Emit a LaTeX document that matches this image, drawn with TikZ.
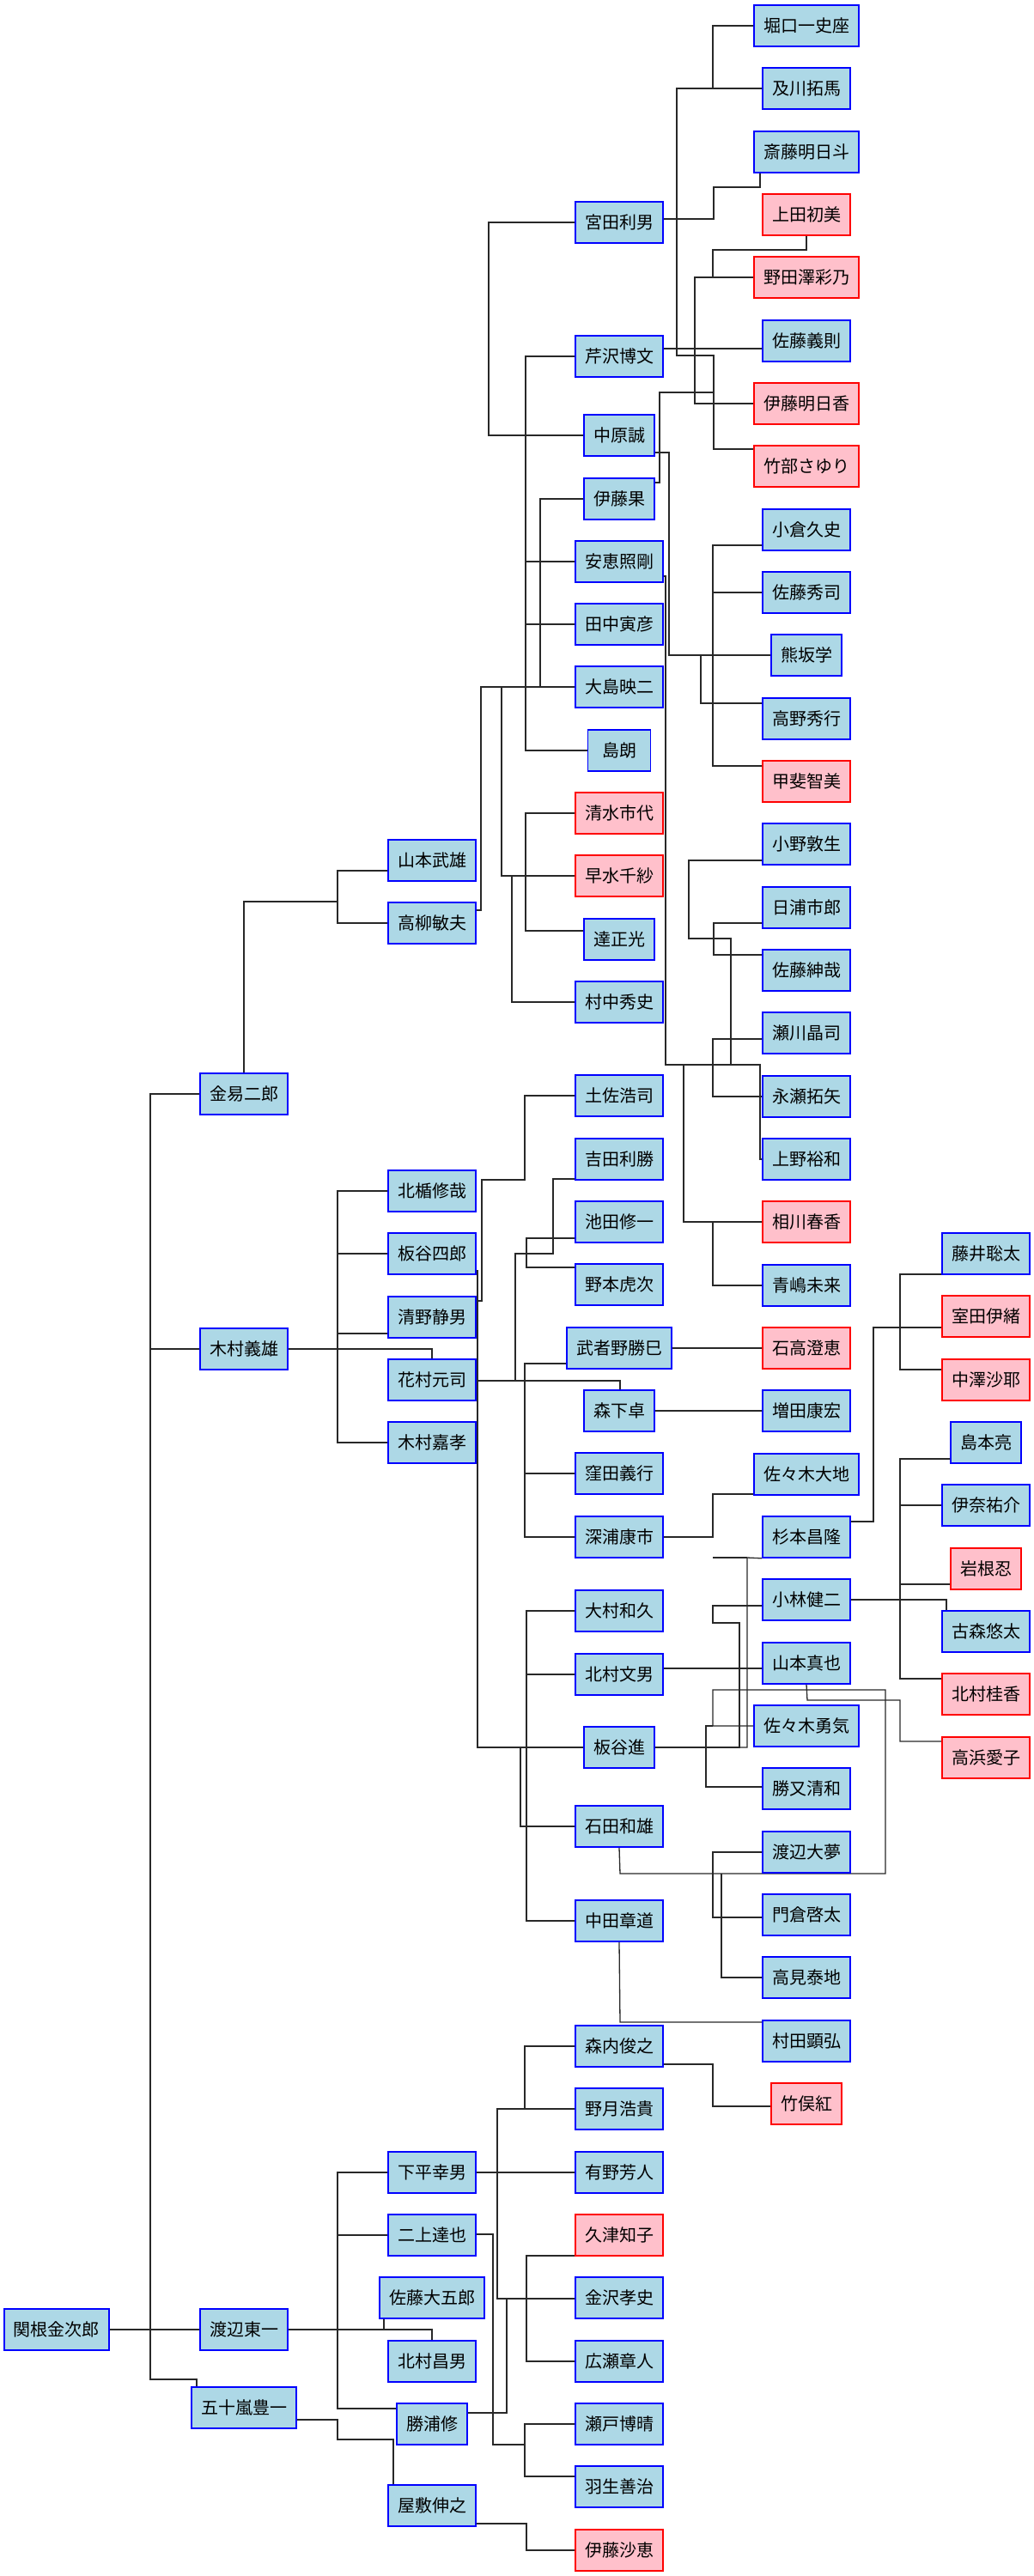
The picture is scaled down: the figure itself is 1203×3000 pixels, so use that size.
\documentclass[tikz,border=0pt]{standalone}
\usepackage{fontspec}
\newfontfamily\jp{Noto Sans CJK JP}
\usetikzlibrary{backgrounds}
\definecolor{boxfill}{RGB}{173,216,230}
\definecolor{boxline}{RGB}{0,0,255}
\definecolor{femfill}{RGB}{255,192,203}
\definecolor{femline}{RGB}{255,0,0}
\definecolor{wirecol}{RGB}{40,40,40}
\begin{document}
\begin{tikzpicture}[x=1bp,y=-1bp,
  person/.style={draw=boxline, fill=boxfill, line width=1.6bp, minimum height=48bp,
    minimum width=73bp, inner xsep=11bp, inner ysep=0pt,
    font=\jp\fontsize{20bp}{24bp}\selectfont},
  woman/.style={person, draw=femline, fill=femfill},
  wire/.style={draw=wirecol, line width=1.3bp}]
\useasboundingbox (0,0) rectangle (1203,3000);

% ---------- generation 1 and 2 ----------
\node[person] (sekine) at (66,2713) {関根金次郎};
\node[person] (kaneeki) at (284,1274) {金易二郎};
\node[person] (kimuraY) at (284,1571) {木村義雄};
\node[person] (watanabeT) at (284,2713) {渡辺東一};
\node[person] (igarashi) at (284,2804) {五十嵐豊一};

% ---------- generation 3 ----------
\node[person] (yamamotoT) at (503,1002) {山本武雄};
\node[person] (takayanagi) at (503,1075) {高柳敏夫};
\node[person] (kitadate) at (503,1387) {北楯修哉};
\node[person] (itayaS) at (503,1460) {板谷四郎};
\node[person] (seino) at (503,1534) {清野静男};
\node[person] (hanamura) at (503,1607) {花村元司};
\node[person] (kimuraK) at (503,1680) {木村嘉孝};
\node[person] (shimodaira) at (503,2530) {下平幸男};
\node[person] (futakami) at (503,2603) {二上達也};
\node[person] (satoD) at (503,2676) {佐藤大五郎};
\node[person] (kitamuraM) at (503,2750) {北村昌男};
\node[person] (katsuura) at (503,2823) {勝浦修};
\node[person] (yashiki) at (503,2918) {屋敷伸之};

% ---------- generation 4 ----------
\node[person] (miyata) at (721,259) {宮田利男};
\node[person] (serizawa) at (721,415) {芹沢博文};
\node[person] (nakahara) at (721,507) {中原誠};
\node[person] (itoH) at (721,581) {伊藤果};
\node[person] (yasue) at (721,654) {安恵照剛};
\node[person] (tanakaT) at (721,727) {田中寅彦};
\node[person] (oshima) at (721,800) {大島映二};
\node[person] (shimaA) at (721,874) {島朗};
\node[woman] (shimizu) at (721,947) {清水市代};
\node[woman] (hayami) at (721,1020) {早水千紗};
\node[person] (tatsu) at (721,1094) {達正光};
\node[person] (muranaka) at (721,1167) {村中秀史};
\node[person] (tosa) at (721,1276) {土佐浩司};
\node[person] (yoshida) at (721,1350) {吉田利勝};
\node[person] (ikeda) at (721,1423) {池田修一};
\node[person] (nomoto) at (721,1496) {野本虎次};
\node[person] (mushano) at (721,1570) {武者野勝巳};
\node[person] (morishita) at (721,1643) {森下卓};
\node[person] (kubota) at (721,1716) {窪田義行};
\node[person] (fukaura) at (721,1790) {深浦康市};
\node[person] (omura) at (721,1876) {大村和久};
\node[person] (kitamuraF) at (721,1950) {北村文男};
\node[person] (itayaSu) at (721,2035) {板谷進};
\node[person] (ishida) at (721,2127) {石田和雄};
\node[person] (nakata) at (721,2237) {中田章道};
\node[person] (moriuchi) at (721,2383) {森内俊之};
\node[person] (nozuki) at (721,2456) {野月浩貴};
\node[person] (arino) at (721,2530) {有野芳人};
\node[woman] (kutsu) at (721,2603) {久津知子};
\node[person] (kanazawa) at (721,2676) {金沢孝史};
\node[person] (hirose) at (721,2750) {広瀬章人};
\node[person] (seto) at (721,2823) {瀬戸博晴};
\node[person] (habu) at (721,2896) {羽生善治};
\node[woman] (itoSae) at (721,2970) {伊藤沙恵};

% ---------- generation 5 ----------
\node[person] (horiguchi) at (939,30) {堀口一史座};
\node[person] (oikawa) at (939,103) {及川拓馬};
\node[person] (saitoA) at (939,177) {斎藤明日斗};
\node[woman] (uedaH) at (939,250) {上田初美};
\node[woman] (nodazawa) at (939,323) {野田澤彩乃};
\node[person] (satoY) at (939,397) {佐藤義則};
\node[woman] (itoAs) at (939,470) {伊藤明日香};
\node[woman] (takebe) at (939,543) {竹部さゆり};
\node[person] (ogura) at (939,617) {小倉久史};
\node[person] (satoSh) at (939,690) {佐藤秀司};
\node[person] (kumasaka) at (939,763) {熊坂学};
\node[person] (takano) at (939,837) {高野秀行};
\node[woman] (kai) at (939,910) {甲斐智美};
\node[person] (ono) at (939,983) {小野敦生};
\node[person] (hiura) at (939,1057) {日浦市郎};
\node[person] (satoSn) at (939,1130) {佐藤紳哉};
\node[person] (segawa) at (939,1203) {瀬川晶司};
\node[person] (nagase) at (939,1277) {永瀬拓矢};
\node[person] (ueno) at (939,1350) {上野裕和};
\node[woman] (aikawa) at (939,1423) {相川春香};
\node[person] (aoshima) at (939,1497) {青嶋未来};
\node[woman] (ishitaka) at (939,1570) {石高澄恵};
\node[person] (masuda) at (939,1643) {増田康宏};
\node[person] (sasakiD) at (939,1717) {佐々木大地};
\node[person] (sugimoto) at (939,1790) {杉本昌隆};
\node[person] (kobayashi) at (939,1863) {小林健二};
\node[person] (yamamotoS) at (939,1937) {山本真也};
\node[person] (sasakiY) at (939,2010) {佐々木勇気};
\node[person] (katsumata) at (939,2083) {勝又清和};
\node[person] (watanabeD) at (939,2157) {渡辺大夢};
\node[person] (kadokura) at (939,2230) {門倉啓太};
\node[person] (takami) at (939,2303) {高見泰地};
\node[person] (murata) at (939,2377) {村田顕弘};
\node[woman] (takemata) at (939,2450) {竹俣紅};

% ---------- generation 6 ----------
\node[person] (fujii) at (1148,1460) {藤井聡太};
\node[woman] (murota) at (1148,1533) {室田伊緒};
\node[woman] (nakazawa) at (1148,1607) {中澤沙耶};
\node[person] (shimamoto) at (1148,1680) {島本亮};
\node[person] (ina) at (1148,1753) {伊奈祐介};
\node[woman] (iwane) at (1148,1827) {岩根忍};
\node[person] (komori) at (1148,1900) {古森悠太};
\node[woman] (kitamuraK) at (1148,1973) {北村桂香};
\node[woman] (takahama) at (1148,2047) {高浜愛子};

\begin{scope}[on background layer]
\fill[white] (0,0) rectangle (1203,3000);

% 関根金次郎
\draw[wire] (sekine.east) -- (watanabeT.west);
\draw[wire] (sekine.east) -- (175,2713) -- (175,1274) -- (kaneeki.west);
\draw[wire] (sekine.east) -- (175,2713) -- (175,1571) -- (kimuraY.west);
\draw[wire] (sekine.east) -- (175,2713) -- (175,2771) -- (229,2771) -- (229,0 |- igarashi.north);

% 金易二郎
\draw[wire] (kaneeki.north) -- (284,1050) -- (393,1050) -- (393,1014) -- (yamamotoT.west |- 0,1014);
\draw[wire] (kaneeki.north) -- (284,1050) -- (393,1050) -- (393,1075) -- (takayanagi.west);

% 木村義雄
\draw[wire] (kimuraY.east) -- (393,1571) -- (393,1387) -- (kitadate.west);
\draw[wire] (kimuraY.east) -- (393,1571) -- (393,1460) -- (itayaS.west);
\draw[wire] (kimuraY.east) -- (393,1571) -- (393,1553) -- (seino.west |- 0,1553);
\draw[wire] (kimuraY.east) -- (503,1571) -- (hanamura.north);
\draw[wire] (kimuraY.east) -- (393,1571) -- (393,1680) -- (kimuraK.west);

% 渡辺東一
\draw[wire] (watanabeT.east) -- (393,2713) -- (393,2530) -- (shimodaira.west);
\draw[wire] (watanabeT.east) -- (393,2713) -- (393,2603) -- (futakami.west);
\draw[wire] (watanabeT.east) -- (447,2713) -- (447,0 |- satoD.south);
\draw[wire] (watanabeT.east) -- (503,2713) -- (kitamuraM.north);
\draw[wire] (watanabeT.east) -- (393,2713) -- (393,2805) -- (katsuura.west |- 0,2805);

% 五十嵐豊一
\draw[wire] (igarashi.east |- 0,2818) -- (393,2818) -- (393,2841) -- (458,2841) -- (458,0 |- yashiki.north);

% 高柳敏夫
\draw[wire] (takayanagi.east |- 0,1060) -- (560,1060) -- (560,800) -- (oshima.west);
\draw[wire] (takayanagi.east |- 0,1060) -- (560,1060) -- (560,800) -- (612,800) -- (612,415) -- (serizawa.west);
\draw[wire] (takayanagi.east |- 0,1060) -- (560,1060) -- (560,800) -- (612,800) -- (612,507) -- (nakahara.west);
\draw[wire] (takayanagi.east |- 0,1060) -- (560,1060) -- (560,800) -- (612,800) -- (612,507) -- (569,507) -- (569,259) -- (miyata.west);
\draw[wire] (612,654) -- (yasue.west);
\draw[wire] (612,727) -- (tanakaT.west);
\draw[wire] (takayanagi.east |- 0,1060) -- (560,1060) -- (560,800) -- (629,800) -- (629,581) -- (itoH.west);
\draw[wire] (takayanagi.east |- 0,1060) -- (560,1060) -- (560,800) -- (612,800) -- (612,874) -- (shimaA.west);
\draw[wire] (takayanagi.east |- 0,1060) -- (560,1060) -- (560,800) -- (584,800) -- (584,1020) -- (612,1020) -- (612,947) -- (shimizu.west);
\draw[wire] (584,1020) -- (hayami.west);
\draw[wire] (612,1020) -- (612,1084) -- (tatsu.west |- 0,1084);
\draw[wire] (596,1020) -- (596,1167) -- (muranaka.west);

% 宮田利男
\draw[wire] (miyata.east |- 0,255) -- (831,255) -- (831,218) -- (885,218) -- (885,0 |- saitoA.south);
\draw[wire] (miyata.east |- 0,255) -- (788,255) -- (788,103) -- (830,103) -- (830,30) -- (horiguchi.west);
\draw[wire] (788,103) -- (oikawa.west);
\draw[wire] (788,255) -- (788,414) -- (831,414) -- (831,523) -- (takebe.west |- 0,523);

% 伊藤果
\draw[wire] (itoH.east |- 0,562) -- (768,562) -- (768,457) -- (809,457) -- (809,323) -- (nodazawa.west);
\draw[wire] (809,323) -- (830,323) -- (830,291) -- (939,291) -- (uedaH.south);
\draw[wire] (809,457) -- (831,457);
\draw[wire] (809,457) -- (809,470) -- (itoAs.west);

% 芹沢博文
\draw[wire] (serizawa.east |- 0,406) -- (satoY.west |- 0,406);

% 中原誠
\draw[wire] (nakahara.east |- 0,527) -- (779,527) -- (779,763) -- (kumasaka.west);
\draw[wire] (779,763) -- (816,763) -- (816,819) -- (takano.west |- 0,819);
\draw[wire] (779,763) -- (830,763) -- (830,635) -- (ogura.west |- 0,635);
\draw[wire] (830,690) -- (satoSh.west);
\draw[wire] (830,763) -- (830,892) -- (kai.west |- 0,892);

% 安恵照剛
\draw[wire] (yasue.east |- 0,671) -- (775,671) -- (775,1240) -- (851,1240) -- (851,1093) -- (802,1093) -- (802,1002) -- (ono.west |- 0,1002);
\draw[wire] (831,1093) -- (831,1075) -- (hiura.west |- 0,1075);
\draw[wire] (831,1093) -- (831,1112) -- (satoSn.west |- 0,1112);
\draw[wire] (830,1240) -- (830,1210) -- (segawa.west |- 0,1210);
\draw[wire] (830,1240) -- (830,1277) -- (nagase.west);
\draw[wire] (851,1240) -- (885,1240) -- (885,1350) -- (ueno.west);
\draw[wire] (796,1240) -- (796,1423) -- (aikawa.west);
\draw[wire] (796,1423) -- (830,1423) -- (830,1497) -- (aoshima.west);

% 清野静男
\draw[wire] (seino.east |- 0,1515) -- (561,1515) -- (561,1374) -- (611,1374) -- (611,1276) -- (tosa.west);

% 板谷四郎
\draw[wire] (itayaS.east |- 0,1480) -- (556,1480) -- (556,2035) -- (itayaSu.west);
\draw[wire] (556,2035) -- (613,2035) -- (613,1876) -- (omura.west);
\draw[wire] (613,1950) -- (kitamuraF.west);
\draw[wire] (556,2035) -- (606,2035) -- (606,2127) -- (ishida.west);
\draw[wire] (613,2035) -- (613,2237) -- (nakata.west);

% 花村元司
\draw[wire] (hanamura.east |- 0,1608) -- (722,1608) -- (722,0 |- morishita.north);
\draw[wire] (600,1608) -- (600,1460) -- (644,1460) -- (644,1373) -- (yoshida.west |- 0,1373);
\draw[wire] (600,1460) -- (613,1460) -- (613,1442) -- (ikeda.west |- 0,1442);
\draw[wire] (613,1460) -- (613,1476) -- (nomoto.west |- 0,1476);
\draw[wire] (611,1608) -- (611,1588) -- (mushano.west |- 0,1588);
\draw[wire] (611,1608) -- (611,1790) -- (fukaura.west);
\draw[wire] (611,1716) -- (kubota.west);

\draw[wire] (mushano.east) -- (ishitaka.west);
\draw[wire] (morishita.east) -- (masuda.west |- morishita.east);
\draw[wire] (fukaura.east) -- (830,1790) -- (830,1740) -- (sasakiD.west |- 0,1740);

% 杉本昌隆
\draw[wire] (sugimoto.east |- 0,1772) -- (1017,1772) -- (1017,1546) -- (murota.west |- 0,1546);
\draw[wire] (1017,1546) -- (1048,1546) -- (1048,1484) -- (fujii.west |- 0,1484);
\draw[wire] (1048,1546) -- (1048,1595) -- (nakazawa.west |- 0,1595);

% 小林健二
\draw[wire] (kobayashi.east) -- (1102,1863) -- (1102,0 |- komori.north);
\draw[wire] (kobayashi.east) -- (1048,1863) -- (1048,1699) -- (shimamoto.west |- 0,1699);
\draw[wire] (1048,1753) -- (ina.west);
\draw[wire] (1048,1845) -- (iwane.west |- 0,1845);
\draw[wire] (1048,1863) -- (1048,1955) -- (kitamuraK.west |- 0,1955);

% 山本真也 / 北村文男
\draw[wire] (yamamotoS.south) -- (940,1980) -- (1048,1980) -- (1048,2028) -- (takahama.west |- 0,2028);
\draw[wire] (kitamuraF.east |- 0,1943) -- (yamamotoS.west |- 0,1943);

% 板谷進
\draw[wire] (itayaSu.east) -- (870,2035) -- (870,1814) -- (sugimoto.south west);
\draw[wire] (830,1814) -- (870,1814);
\draw[wire] (itayaSu.east) -- (861,2035) -- (861,1890) -- (830,1890) -- (830,1870) -- (kobayashi.west |- 0,1870);

% 石田和雄
\draw[wire] (ishida.south) -- (722,2182) -- (1031,2182) -- (1031,1968) -- (830,1968) -- (830,2010) -- (sasakiY.west);
\draw[wire] (830,2010) -- (822,2010) -- (822,2081) -- (katsumata.west |- 0,2081);
\draw[wire] (830,2182) -- (830,2157) -- (watanabeD.west |- 0,2157);
\draw[wire] (830,2182) -- (830,2233) -- (kadokura.west |- 0,2233);
\draw[wire] (840,2182) -- (840,2303) -- (takami.west);

% 中田章道 / 森内俊之
\draw[wire] (nakata.south) -- (722,2355) -- (murata.west |- 0,2355);
\draw[wire] (moriuchi.east |- 0,2404) -- (830,2404) -- (830,2453) -- (takemata.west |- 0,2453);

% 勝浦修
\draw[wire] (katsuura.east |- 0,2810) -- (590,2810) -- (590,2677) -- (kanazawa.west |- 0,2677);
\draw[wire] (590,2677) -- (613,2677) -- (613,2627) -- (kutsu.west |- 0,2627);
\draw[wire] (613,2677) -- (613,2750) -- (hirose.west);
\draw[wire] (590,2677) -- (579,2677) -- (579,2456) -- (nozuki.west);
\draw[wire] (579,2456) -- (611,2456) -- (611,2383) -- (moriuchi.west);

% 下平幸男 / 二上達也 / 屋敷伸之
\draw[wire] (shimodaira.east) -- (arino.west);
\draw[wire] (futakami.east |- 0,2602) -- (574,2602) -- (574,2847) -- (611,2847) -- (611,2823) -- (seto.west);
\draw[wire] (611,2847) -- (611,2884) -- (habu.west |- 0,2884);
\draw[wire] (yashiki.east |- 0,2939) -- (613,2939) -- (613,2970) -- (itoSae.west);
\end{scope}
\end{tikzpicture}
\end{document}
